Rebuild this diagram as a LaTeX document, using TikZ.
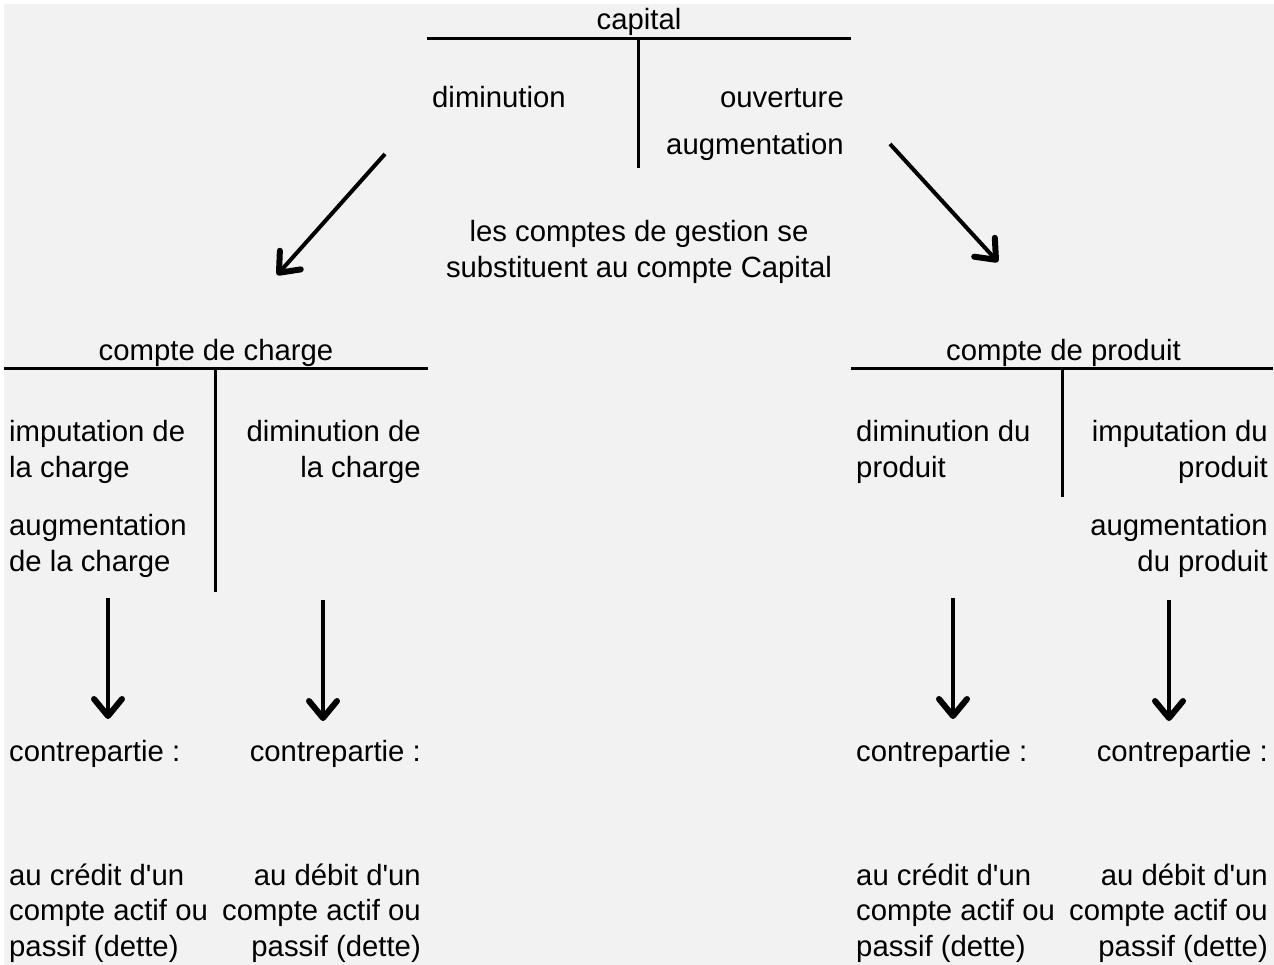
\documentclass[tikz,border=0pt]{standalone}
\usepackage{fontspec}
\setmainfont{Liberation Sans}
\usetikzlibrary{arrows.meta}
\newcommand{\apos}{\textquotesingle}
\begin{document}
\begin{tikzpicture}[x=1pt,y=-1pt,
  txt/.style={inner sep=0pt,font=\fontsize{29.3}{36}\selectfont},
  tline/.style={line width=3pt},
  arr/.style={line width=4pt,-{Straight Barb[length=17pt,width=28pt,line width=6pt,round]}}]
\useasboundingbox (0,0) rectangle (1274,965);
\fill[fill={rgb,255:red,242;green,242;blue,242}] (4,4) rectangle (1274,965);
% top T
\coordinate (capL) at (427,38.5);
\coordinate (capR) at (851,38.5);
\coordinate (capT) at (638,38.5);
\coordinate (capB) at (638,168);
\draw[tline] (capL) -- (capR);
\draw[tline] (capT) -- (capB);
\node[txt,anchor=base] (capital) at (639,30) {capital};
\node[txt,anchor=base west] (cdim) at (432,108) {diminution};
\node[txt,anchor=base east] (couv) at (844,108) {ouverture};
\node[txt,anchor=base east] (caug) at (844,155) {augmentation};
% middle text
\node[txt,anchor=base] (mid1) at (639,242) {les comptes de gestion se};
\node[txt,anchor=base] (mid2) at (639,277.5) {substituent au compte Capital};
% diagonal arrows
\coordinate (a1s) at (385,154);
\coordinate (a1e) at (277,275);
\coordinate (a2s) at (890,144);
\coordinate (a2e) at (998,262);
\draw[arr] (a1s) -- (a1e);
\draw[arr] (a2s) -- (a2e);
% left T
\coordinate (lL) at (4,368.3);
\coordinate (lR) at (428,368.3);
\coordinate (lT) at (215,368.3);
\coordinate (lB) at (215,592);
\draw[tline] (lL) -- (lR);
\draw[tline] (lT) -- (lB);
\node[txt,anchor=base] (charge) at (216,360) {compte de charge};
\node[txt,anchor=base west] (l1) at (9,441.7) {imputation de};
\node[txt,anchor=base west] (l2) at (9,477.7) {la charge};
\node[txt,anchor=base west] (l3) at (9,535) {augmentation};
\node[txt,anchor=base west] (l4) at (9,571.2) {de la charge};
\node[txt,anchor=base east] (r1) at (421,441.7) {diminution de};
\node[txt,anchor=base east] (r2) at (421,477.7) {la charge};
% left arrows
\coordinate (d1s) at (108,598);
\coordinate (d1e) at (108,719);
\coordinate (d2s) at (323,600);
\coordinate (d2e) at (323,721);
\draw[arr] (d1s) -- (d1e);
\draw[arr] (d2s) -- (d2e);
\node[txt,anchor=base west] (lc) at (9,761.7) {contrepartie :};
\node[txt,anchor=base east] (rc) at (421,761.7) {contrepartie :};
\node[txt,anchor=base west] (lb1) at (9,885) {au crédit d\apos un};
\node[txt,anchor=base west] (lb2) at (9,920.7) {compte actif ou};
\node[txt,anchor=base west] (lb3) at (9,956.5) {passif (dette)};
\node[txt,anchor=base east] (rb1) at (421,885) {au débit d\apos un};
\node[txt,anchor=base east] (rb2) at (421,920.7) {compte actif ou};
\node[txt,anchor=base east] (rb3) at (421,956.5) {passif (dette)};
% right T
\coordinate (pL) at (851,368.3);
\coordinate (pR) at (1273,368.3);
\coordinate (pT) at (1062,368.3);
\coordinate (pB) at (1062,497);
\draw[tline] (pL) -- (pR);
\draw[tline] (pT) -- (pB);
\node[txt,anchor=base] (produit) at (1063.5,360) {compte de produit};
\node[txt,anchor=base west] (p1) at (856,441.7) {diminution du};
\node[txt,anchor=base west] (p2) at (856,477.7) {produit};
\node[txt,anchor=base east] (q1) at (1268,441.7) {imputation du};
\node[txt,anchor=base east] (q2) at (1268,477.7) {produit};
\node[txt,anchor=base east] (q3) at (1268,535) {augmentation};
\node[txt,anchor=base east] (q4) at (1268,571.2) {du produit};
% right arrows
\coordinate (d3s) at (953,598);
\coordinate (d3e) at (953,719);
\coordinate (d4s) at (1169,600);
\coordinate (d4e) at (1169,721);
\draw[arr] (d3s) -- (d3e);
\draw[arr] (d4s) -- (d4e);
\node[txt,anchor=base west] (pc) at (856,761.7) {contrepartie :};
\node[txt,anchor=base east] (qc) at (1268,761.7) {contrepartie :};
\node[txt,anchor=base west] (pb1) at (856,885) {au crédit d\apos un};
\node[txt,anchor=base west] (pb2) at (856,920.7) {compte actif ou};
\node[txt,anchor=base west] (pb3) at (856,956.5) {passif (dette)};
\node[txt,anchor=base east] (qb1) at (1268,885) {au débit d\apos un};
\node[txt,anchor=base east] (qb2) at (1268,920.7) {compte actif ou};
\node[txt,anchor=base east] (qb3) at (1268,956.5) {passif (dette)};
\end{tikzpicture}
\end{document}
